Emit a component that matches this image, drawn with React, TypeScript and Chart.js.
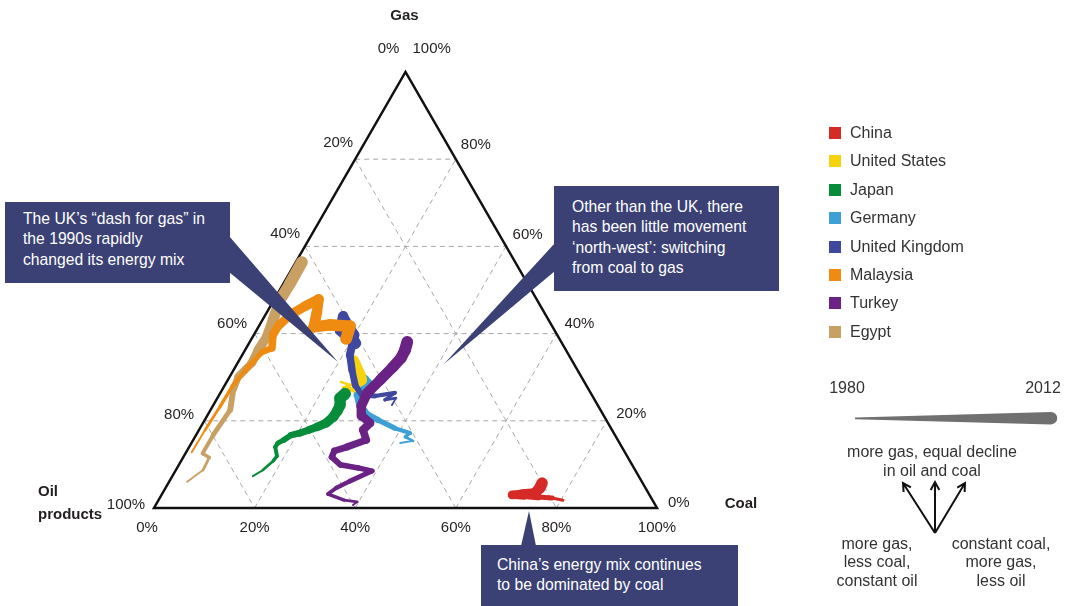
import React, { useEffect, useRef } from "react";
import { Chart, registerables } from "chart.js";

Chart.register(...registerables);

// Each row: [year, gas %, coal %]  — oil products % = 100 − gas − coal
const china: number[][] = [
  [1980, 1.8, 80.4], [1984, 2.3, 78.0], [1988, 2.5, 75.1], [1992, 2.8, 72.2], [1996, 3.0, 69.7],
  [2000, 3.2, 71.6], [2004, 3.4, 74.0], [2008, 4.6, 74.4], [2012, 5.7, 74.3],
];
const unitedStates: number[][] = [
  [1980, 28.9, 22.7], [1982, 28.2, 24.9], [1984, 27.5, 24.0], [1986, 27.1, 26.2], [1989, 28.2, 26.5],
  [1992, 29.8, 26.1], [1995, 31.7, 24.7], [1998, 33.0, 23.7], [2001, 33.9, 22.8], [2004, 32.6, 23.9],
  [2007, 31.0, 25.3], [2010, 29.4, 26.5], [2012, 30.3, 25.8],
];
const japan: number[][] = [
  [1980, 7.3, 16.0], [1981, 8.7, 17.3], [1982, 10.8, 18.3], [1983, 11.9, 18.5], [1984, 14.0, 17.1],
  [1985, 14.9, 17.2], [1987, 15.6, 18.0], [1989, 16.7, 18.9], [1991, 17.2, 20.4], [1993, 17.9, 21.9],
  [1996, 18.6, 23.1], [1999, 19.5, 24.5], [2002, 20.9, 25.2], [2005, 22.3, 25.3], [2008, 23.6, 25.2],
  [2010, 25.2, 24.4], [2012, 26.2, 24.9],
];
const germany: number[][] = [
  [1980, 14.9, 41.5], [1981, 15.4, 43.8], [1982, 16.3, 41.8], [1983, 17.2, 42.3], [1985, 18.3, 38.7],
  [1988, 20.2, 34.4], [1991, 21.6, 31.4], [1994, 23.6, 29.2], [1997, 25.9, 27.6], [2000, 27.5, 27.6],
  [2003, 29.4, 27.1], [2006, 28.4, 28.3], [2009, 26.6, 27.7], [2012, 25.2, 28.8],
];
const unitedKingdom: number[][] = [
  [1980, 23.6, 35.5], [1981, 25.2, 35.5], [1982, 24.8, 33.5], [1983, 26.4, 34.7], [1985, 25.7, 31.1],
  [1987, 25.9, 28.4], [1990, 28.2, 25.9], [1992, 31.7, 23.5], [1994, 35.1, 21.4], [1996, 37.4, 20.7],
  [1998, 39.7, 20.1], [2000, 42.0, 17.6], [2003, 44.0, 15.6], [2006, 40.8, 16.6], [2009, 37.8, 21.1],
  [2012, 39.4, 19.3],
];
const malaysia: number[][] = [
  [1980, 12.8, 1.1], [1981, 17.9, 1.2], [1982, 23.2, 1.5], [1983, 27.8, 1.6], [1985, 31.7, 2.4],
  [1988, 35.8, 3.6], [1992, 36.7, 5.1], [1995, 39.7, 3.8], [1997, 41.7, 3.8], [1999, 44.3, 4.9],
  [2001, 46.3, 6.9], [2003, 47.9, 8.8], [2005, 45.0, 9.9], [2007, 41.5, 11.0], [2009, 42.0, 14.0],
  [2011, 41.7, 18.1], [2012, 38.8, 18.8],
];
const turkey: number[][] = [
  [1980, 0.7, 39.2], [1981, 1.4, 39.7], [1982, 1.8, 36.9], [1983, 3.2, 33.0], [1984, 4.6, 33.9],
  [1985, 6.2, 35.9], [1986, 8.5, 39.1], [1987, 9.2, 36.0], [1988, 9.9, 32.1], [1989, 11.7, 29.5],
  [1990, 13.1, 29.3], [1991, 14.0, 31.4], [1993, 15.6, 34.4], [1995, 17.9, 32.6], [1997, 19.5, 33.2],
  [1999, 21.1, 30.8], [2001, 23.4, 29.5], [2003, 26.4, 29.2], [2005, 29.4, 30.3], [2007, 32.3, 31.3],
  [2009, 34.4, 31.9], [2010, 36.2, 31.8], [2012, 38.1, 31.3],
];
const egypt: number[][] = [
  [1980, 6.0, 3.6], [1981, 8.7, 5.4], [1982, 11.6, 5.2], [1983, 12.5, 3.4], [1984, 16.7, 3.4],
  [1987, 22.5, 3.9], [1990, 27.1, 2.2], [1993, 30.1, 1.7], [1996, 33.2, 2.8], [1999, 36.2, 2.6],
  [2002, 39.3, 2.8], [2005, 43.1, 2.1], [2008, 47.7, 1.2], [2010, 51.5, 1.3], [2012, 56.4, 1.2],
];

const countries = ["China", "United States", "Japan", "Germany", "United Kingdom", "Malaysia", "Turkey", "Egypt"];
const countryColors = ["#d62a27", "#f7d20f", "#078c3b", "#3ea1d5", "#3f479f", "#ee8b10", "#6a2285", "#c8a064"];
const seriesData = [china, unitedStates, japan, germany, unitedKingdom, malaysia, turkey, egypt];
const drawOrder = [0, 6, 5, 2, 4, 1, 3, 7]; // first is drawn on top
const gridTicks = [20, 40, 60, 80];
const sideTicks = [0, 20, 40, 60, 80, 100];
const firstYear = 1980;
const lastYear = 2012;

const FONT = '"Liberation Sans", Arial, Helvetica, sans-serif';
const NAVY = "#3b4175";
const TEXT = "#231f20";

const widthFor = (yr: number) =>
  1 + 11 * Math.pow(Math.max(0, (yr - firstYear) / (lastYear - firstYear)), 0.6);

// pixel position for (gas fraction, coal fraction) via the chart's scales
const pos = (chart: any, gas: number, coal: number) => ({
  x: chart.scales.x.getPixelForValue(coal + gas / 2),
  y: chart.scales.y.getPixelForValue(gas),
});

const ternaryPlugin = {
  id: "ternary",
  beforeDatasetsDraw(chart: any) {
    const ctx: CanvasRenderingContext2D = chart.ctx;
    const seg = (a: any, b: any) => {
      ctx.beginPath();
      ctx.moveTo(a.x, a.y);
      ctx.lineTo(b.x, b.y);
      ctx.stroke();
    };
    ctx.save();
    ctx.strokeStyle = "#a8a8a8";
    ctx.lineWidth = 1;
    ctx.setLineDash([5, 4]);
    for (const v of gridTicks) {
      const f = v / 100;
      seg(pos(chart, f, 0), pos(chart, f, 1 - f)); // constant gas
      seg(pos(chart, 1 - f, 0), pos(chart, 0, 1 - f)); // constant oil
      seg(pos(chart, 0, f), pos(chart, 1 - f, f)); // constant coal
    }
    ctx.setLineDash([]);
    ctx.strokeStyle = "#111";
    ctx.lineWidth = 2.5;
    ctx.lineJoin = "miter";
    const a = pos(chart, 0, 0), b = pos(chart, 0, 1), c = pos(chart, 1, 0);
    ctx.beginPath();
    ctx.moveTo(a.x, a.y);
    ctx.lineTo(b.x, b.y);
    ctx.lineTo(c.x, c.y);
    ctx.closePath();
    ctx.stroke();
    ctx.restore();
  },
  afterDatasetsDraw(chart: any) {
    const ctx: CanvasRenderingContext2D = chart.ctx;
    ctx.save();
    ctx.fillStyle = NAVY;
    const wedge = (pts: number[][]) => {
      ctx.beginPath();
      ctx.moveTo(pts[0][0], pts[0][1]);
      for (const p of pts.slice(1)) ctx.lineTo(p[0], p[1]);
      ctx.closePath();
      ctx.fill();
    };
    wedge([[229, 236], [338, 362], [229, 272]]);
    wedge([[555, 243], [444, 364], [555, 271]]);
    wedge([[521, 546], [529, 511], [536, 546]]);
    ctx.restore();
  },
  afterDraw(chart: any) {
    const ctx: CanvasRenderingContext2D = chart.ctx;
    ctx.save();
    ctx.fillStyle = TEXT;
    ctx.font = `15px ${FONT}`;
    ctx.textBaseline = "middle";
    // bottom: coal
    ctx.textAlign = "center";
    for (const v of sideTicks) {
      const p = pos(chart, 0, v / 100);
      ctx.fillText(`${v}%`, p.x + (v === 0 ? -7 : 0), p.y + 20);
    }
    // left: oil products
    for (const v of sideTicks) {
      const p = pos(chart, 1 - v / 100, 0);
      if (v === 0) {
        ctx.fillText("0%", p.x - 17, p.y - 23);
        continue;
      }
      const t = (v - 20) / 80;
      ctx.fillText(`${v}%`, p.x - 17 - 11 * t, p.y - 16 + 13 * t);
    }
    // right: gas
    ctx.textAlign = "left";
    for (const v of sideTicks) {
      const p = pos(chart, v / 100, 1 - v / 100);
      if (v === 100) {
        ctx.fillText("100%", p.x + 7, p.y - 23);
        continue;
      }
      const t = (80 - v) / 80;
      ctx.fillText(`${v}%`, p.x + 5 + 6 * t, p.y - 14 + 9 * t);
    }
    // axis titles
    ctx.font = `bold 15px ${FONT}`;
    ctx.textAlign = "center";
    const apex = pos(chart, 1, 0);
    ctx.fillText("Gas", apex.x - 1, apex.y - 56);
    const coalV = pos(chart, 0, 1);
    ctx.fillText("Coal", coalV.x + 84, coalV.y - 4);
    const oilV = pos(chart, 0, 0);
    ctx.textAlign = "left";
    ctx.fillText("Oil", oilV.x - 116, oilV.y - 16);
    ctx.fillText("products", oilV.x - 116, oilV.y + 7);

    // time taper key
    ctx.fillStyle = "#707070";
    ctx.beginPath();
    ctx.moveTo(855, 417.6);
    ctx.lineTo(1051, 412);
    ctx.arc(1051, 418.2, 6.2, -Math.PI / 2, Math.PI / 2);
    ctx.lineTo(855, 419.2);
    ctx.closePath();
    ctx.fill();

    // direction arrows
    ctx.strokeStyle = "#111";
    ctx.lineWidth = 2;
    ctx.lineCap = "butt";
    const arrow = (x0: number, y0: number, x1: number, y1: number) => {
      const ang = Math.atan2(y1 - y0, x1 - x0);
      const L = 9, s = 0.5;
      ctx.beginPath();
      ctx.moveTo(x0, y0);
      ctx.lineTo(x1, y1);
      ctx.moveTo(x1 - L * Math.cos(ang - s), y1 - L * Math.sin(ang - s));
      ctx.lineTo(x1, y1);
      ctx.lineTo(x1 - L * Math.cos(ang + s), y1 - L * Math.sin(ang + s));
      ctx.stroke();
    };
    arrow(935, 533, 903, 483);
    arrow(935, 533, 935, 482);
    arrow(935, 533, 965, 483);
    ctx.restore();
  },
};

const callouts = [
  { left: 5, top: 202, width: 225, height: 81, padL: 18, padT: 7, lines: ["The UK’s “dash for gas” in", "the 1990s rapidly", "changed its energy mix"] },
  { left: 554, top: 186, width: 225, height: 105, padL: 18, padT: 11, lines: ["Other than the UK, there", "has been little movement", "‘north-west’: switching", "from coal to gas"] },
  { left: 481, top: 545, width: 257, height: 61, padL: 16, padT: 10, lines: ["China’s energy mix continues", "to be dominated by coal"] },
];

export default function App() {
  const ref = useRef<HTMLCanvasElement>(null);

  useEffect(() => {
    const datasets = drawOrder.map((i) => {
      const rows = seriesData[i];
      const yrs = rows.map((r) => r[0]);
      return {
        label: countries[i],
        data: rows.map((r) => ({ x: (r[2] + r[1] / 2) / 100, y: r[1] / 100 })),
        showLine: true,
        borderColor: countryColors[i],
        backgroundColor: countryColors[i],
        borderWidth: 3,
        borderCapStyle: "round",
        borderJoinStyle: "round",
        pointRadius: 0,
        pointHoverRadius: 0,
        pointHitRadius: 0,
        clip: false,
        segment: {
          borderWidth: (c: any) => widthFor((yrs[c.p0DataIndex] + yrs[c.p1DataIndex]) / 2),
        },
      };
    });
    const chart = new Chart(ref.current as HTMLCanvasElement, {
      type: "scatter",
      data: { datasets: datasets as any },
      options: {
        animation: false,
        responsive: false,
        devicePixelRatio: 1,
        layout: { padding: { left: 154, right: 415, top: 72, bottom: 98 } },
        scales: {
          x: { type: "linear", min: 0, max: 1, display: false },
          y: { type: "linear", min: 0, max: 1, display: false },
        },
        plugins: { legend: { display: false }, tooltip: { enabled: false } },
        events: [],
      },
      plugins: [ternaryPlugin as any],
    });
    return () => chart.destroy();
  }, []);

  return (
    <div style={{ position: "absolute", left: 0, top: 0, width: 1072, height: 606, fontFamily: FONT, background: "#fff", overflow: "hidden" }}>
      <canvas ref={ref} width={1072} height={606} style={{ position: "absolute", left: 0, top: 0 }} />
      {callouts.map((c, k) => (
        <div key={k} style={{ position: "absolute", left: c.left, top: c.top, width: c.width, height: c.height, background: NAVY, color: "#fff", fontSize: 15.7, lineHeight: "20.3px", boxSizing: "border-box", paddingLeft: c.padL, paddingTop: c.padT, whiteSpace: "nowrap" }}>
          {c.lines.map((l, j) => (<div key={j}>{l}</div>))}
        </div>
      ))}
      {countries.map((name, i) => (
        <div key={name} style={{ position: "absolute", left: 829, top: 124 + i * 28.4, height: 18, display: "flex", alignItems: "center", color: "#333", fontSize: 16 }}>
          <span style={{ display: "inline-block", width: 12, height: 12, background: countryColors[i], marginRight: 9 }} />
          <span>{name}</span>
        </div>
      ))}
      <div style={{ position: "absolute", left: 826, top: 379, width: 42, textAlign: "center", fontSize: 16, color: "#333" }}>1980</div>
      <div style={{ position: "absolute", left: 1022, top: 379, width: 42, textAlign: "center", fontSize: 16, color: "#333" }}>2012</div>
      <div style={{ position: "absolute", left: 827, top: 443, width: 210, textAlign: "center", fontSize: 16, lineHeight: "18.5px", color: "#333" }}>
        <div>more gas, equal decline</div>
        <div>in oil and coal</div>
      </div>
      <div style={{ position: "absolute", left: 812, top: 535, width: 130, textAlign: "center", fontSize: 16, lineHeight: "18.4px", color: "#333" }}>
        <div>more gas,</div>
        <div>less coal,</div>
        <div>constant oil</div>
      </div>
      <div style={{ position: "absolute", left: 935, top: 535, width: 132, textAlign: "center", fontSize: 16, lineHeight: "18.4px", color: "#333" }}>
        <div>constant coal,</div>
        <div>more gas,</div>
        <div>less oil</div>
      </div>
    </div>
  );
}
